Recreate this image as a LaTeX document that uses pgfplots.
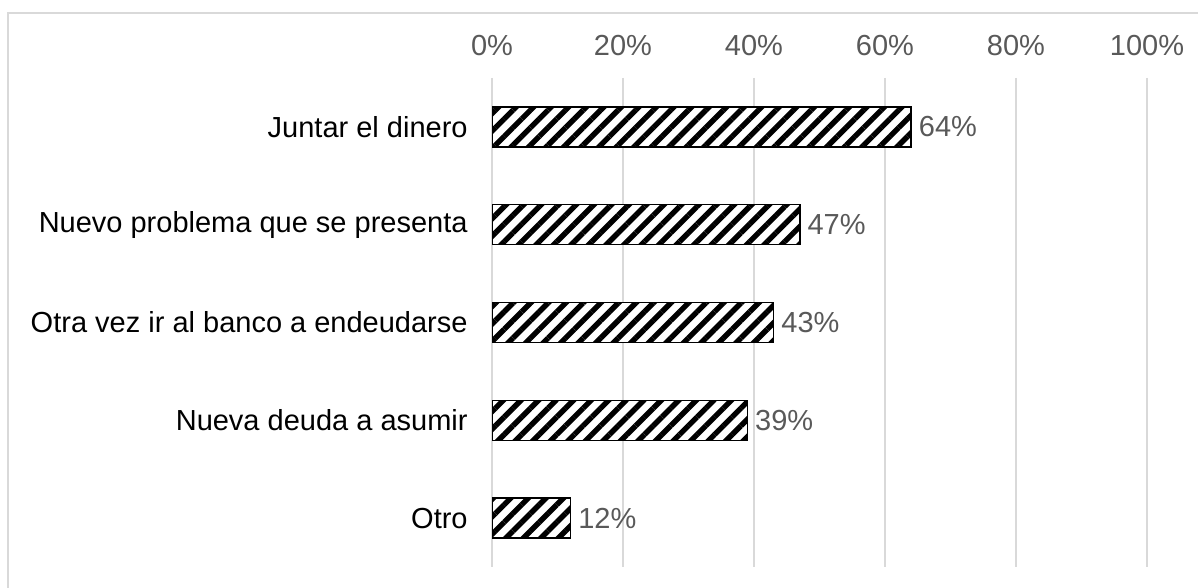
\documentclass[border=0pt]{standalone}
\usepackage{fontspec}
\setmainfont{Liberation Sans}
\usepackage{pgfplots}
\pgfplotsset{compat=1.18}
\usetikzlibrary{patterns.meta}
\definecolor{gridgray}{HTML}{D9D9D9}
\definecolor{txtgray}{HTML}{595959}
\begin{document}
\begin{tikzpicture}
\useasboundingbox (0,0) rectangle (599pt,294pt);
\draw[gridgray, line width=1pt] (4pt,0) -- (4pt,287.5pt) -- (599pt,287.5pt);
\begin{axis}[
  at={(246pt,10.5pt)}, anchor=south west,
  width=327.5pt, height=244.5pt, scale only axis,
  /pgf/number format/assume math mode=true,
  xbar, bar width=20pt,
  xmin=0, xmax=100,
  ymin=-0.5, ymax=4.5, y dir=reverse,
  axis line style={draw=none},
  major tick length=0pt,
  xtick={0,20,40,60,80,100},
  xticklabel pos=top,
  xticklabel={\pgfmathprintnumber{\tick}\%},
  xticklabel style={font=\fontsize{14.5}{17}\selectfont, text=txtgray, anchor=base, yshift=11pt, inner sep=0pt},
  ytick={0,1,2,3,4},
  yticklabels={Juntar el dinero, Nuevo problema que se presenta, Otra vez ir al banco a endeudarse, Nueva deuda a asumir, Otro},
  yticklabel style={font=\fontsize{14.5}{17}\selectfont, text=black, inner sep=0pt, xshift=-12pt},
  xmajorgrids, grid style={gridgray, line width=1pt},
  point meta=x,
  nodes near coords={\pgfmathprintnumber{\pgfplotspointmeta}\%},
  nodes near coords style={font=\fontsize{14.5}{17}\selectfont, text=txtgray, anchor=west, inner sep=0pt, xshift=3.5pt},
]
\addplot[draw=black, line width=0.75pt, fill=white,
  postaction={pattern={Lines[angle=45, distance=6.2pt, line width=2.7pt]}, pattern color=black}]
  coordinates {(64,0) (47,1) (43,2) (39,3) (12,4)};
\end{axis}
\end{tikzpicture}
\end{document}
